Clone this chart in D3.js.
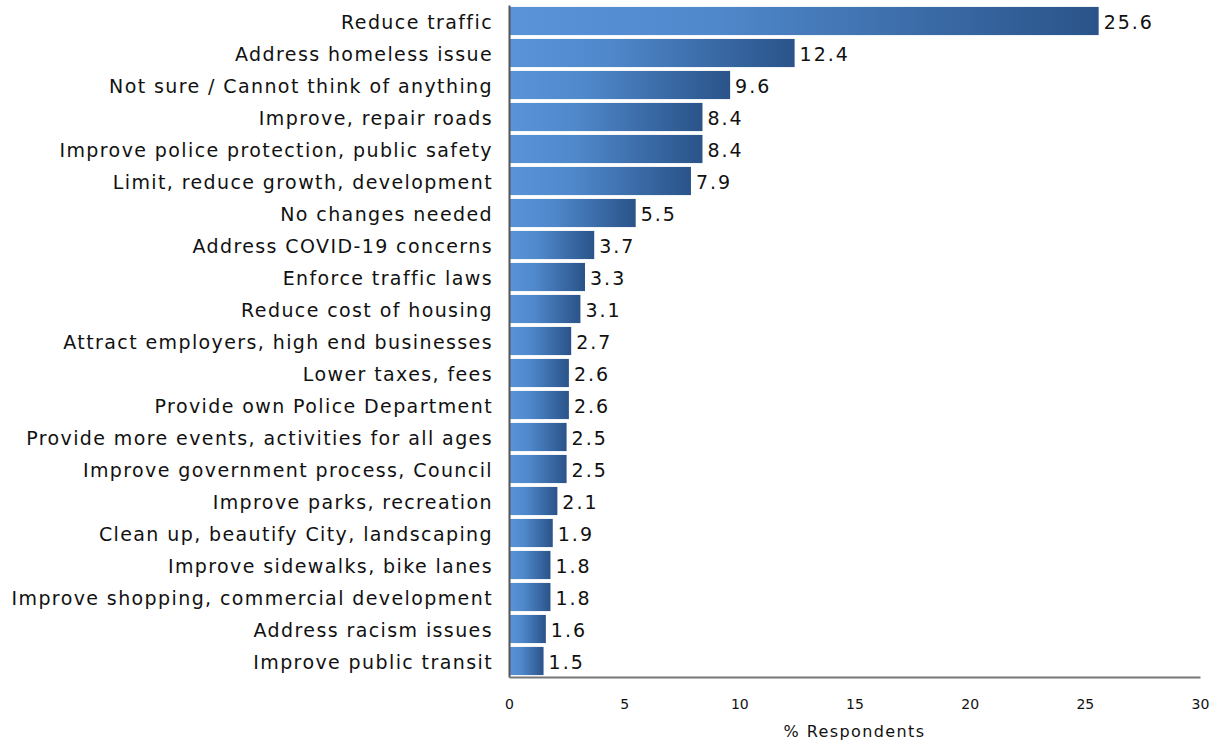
<!DOCTYPE html>
<html><head><meta charset="utf-8">
<script src="https://cdn.jsdelivr.net/npm/d3@7"></script>
<style>body{margin:0;background:#fff}svg{display:block}</style>
</head><body><svg id="c" width="1221" height="743"></svg>
<script>
const categories = ["Reduce traffic","Address homeless issue","Not sure / Cannot think of anything","Improve, repair roads","Improve police protection, public safety","Limit, reduce growth, development","No changes needed","Address COVID-19 concerns","Enforce traffic laws","Reduce cost of housing","Attract employers, high end businesses","Lower taxes, fees","Provide own Police Department","Provide more events, activities for all ages","Improve government process, Council","Improve parks, recreation","Clean up, beautify City, landscaping","Improve sidewalks, bike lanes","Improve shopping, commercial development","Address racism issues","Improve public transit"];
const values = [25.6,12.4,9.6,8.4,8.4,7.9,5.5,3.7,3.3,3.1,2.7,2.6,2.6,2.5,2.5,2.1,1.9,1.8,1.8,1.6,1.5];
const xTicks = [0,5,10,15,20,25,30];
const xTitle = "% Respondents";

const svg = d3.select("#c");
const mLeft = 509, mRight = 1200, mTop = 5, mBottom = 677;
const x = d3.scaleLinear().domain([0,30]).range([mLeft,mRight]);
const y = d3.scaleBand().domain(categories).range([mTop,mBottom]).paddingInner(0.12).paddingOuter(0.06);
const font = "DejaVu Sans, sans-serif";

const defs = svg.append("defs");
const g = defs.append("linearGradient").attr("id","bg").attr("x1","0").attr("x2","1").attr("y1","0").attr("y2","0");
g.append("stop").attr("offset","0").attr("stop-color","#5a93d8");
g.append("stop").attr("offset","0.35").attr("stop-color","#4f88cb");
g.append("stop").attr("offset","1").attr("stop-color","#2a5389");

svg.append("g").selectAll("rect").data(categories).join("rect")
  .attr("x", x(0)).attr("y", d=>y(d)).attr("height", y.bandwidth())
  .attr("width", (d,i)=>x(values[i])-x(0)).attr("fill","url(#bg)");

svg.append("g").selectAll("text").data(categories).join("text")
  .attr("x", (d,i)=>x(values[i])+5).attr("y", d=>y(d)+y.bandwidth()/2)
  .attr("dy","0.42em").attr("font-family",font).attr("font-size",19).attr("fill","#111")
  .attr("letter-spacing","2px")
  .text((d,i)=>values[i].toFixed(1));

const ya = svg.append("g").attr("transform",`translate(${mLeft},0)`).call(d3.axisLeft(y).tickSize(0).tickPadding(16));
ya.select(".domain").attr("stroke","#555").attr("stroke-width",2);
ya.selectAll("text").attr("font-family",font).attr("font-size",19).attr("fill","#111").attr("letter-spacing","1.4px").attr("dy","0.42em");

const xa = svg.append("g").attr("transform",`translate(0,${mBottom})`).call(d3.axisBottom(x).tickValues(xTicks).tickSize(0).tickPadding(22));
xa.select(".domain").attr("stroke","#777").attr("stroke-width",2);
xa.selectAll("text").attr("font-family",font).attr("font-size",14).attr("fill","#111");

svg.append("text").attr("x",(mLeft+mRight)/2).attr("y",737).attr("text-anchor","middle")
  .attr("font-family",font).attr("font-size",16).attr("fill","#111").attr("letter-spacing","1.4px").text(xTitle);
</script></body></html>
